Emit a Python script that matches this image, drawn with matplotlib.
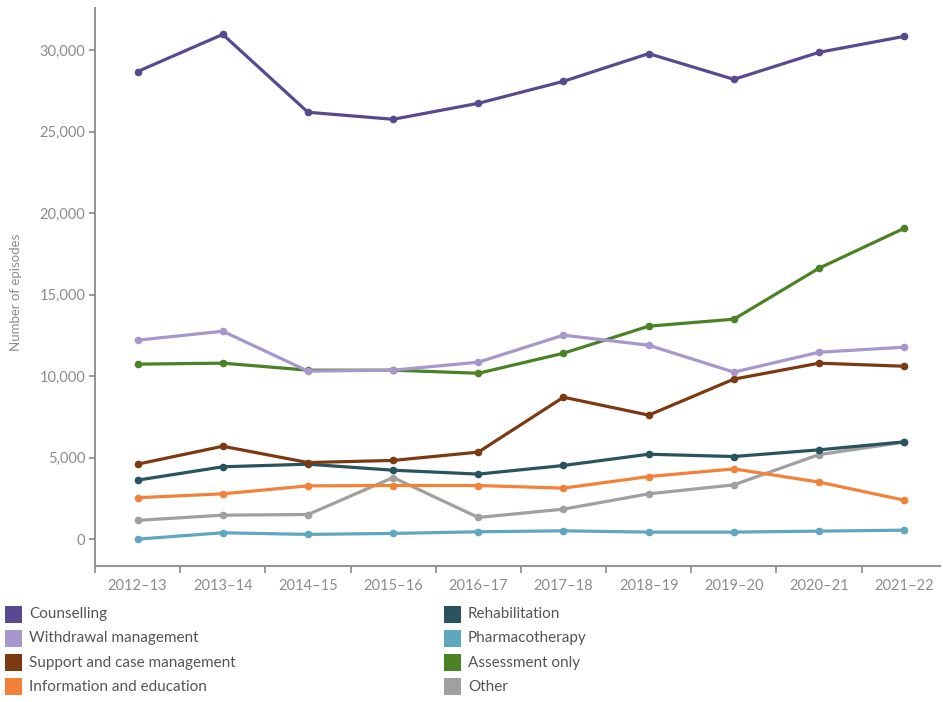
import matplotlib
matplotlib.use("Agg")
import matplotlib.pyplot as plt
from matplotlib.patches import Rectangle
from matplotlib.ticker import FuncFormatter, FixedLocator

YEARS = ["2012–13", "2013–14", "2014–15", "2015–16", "2016–17",
         "2017–18", "2018–19", "2019–20", "2020–21", "2021–22"]

COUNSELLING = [28700, 30980, 26200, 25770, 26750, 28100, 29800, 28220, 29880, 30860]
WITHDRAWAL = [12210, 12760, 10310, 10370, 10860, 12520, 11900, 10250, 11470, 11780]
SUPPORT = [4600, 5700, 4700, 4830, 5340, 8710, 7610, 9820, 10800, 10610]
INFORMATION = [2540, 2780, 3270, 3290, 3290, 3130, 3840, 4310, 3500, 2390]
REHABILITATION = [3620, 4440, 4600, 4230, 3990, 4520, 5210, 5070, 5480, 5970]
PHARMACOTHERAPY = [0, 390, 290, 350, 450, 510, 430, 430, 490, 550]
ASSESSMENT = [10740, 10800, 10370, 10370, 10180, 11410, 13070, 13500, 16630, 19080]
OTHER = [1150, 1470, 1510, 3780, 1330, 1840, 2780, 3330, 5190, 5950]

SERIES = [
    ("Counselling", COUNSELLING, "#594a8f"),
    ("Withdrawal management", WITHDRAWAL, "#a797cc"),
    ("Support and case management", SUPPORT, "#7b3a12"),
    ("Information and education", INFORMATION, "#f28139"),
    ("Rehabilitation", REHABILITATION, "#28535f"),
    ("Pharmacotherapy", PHARMACOTHERAPY, "#5fa6bf"),
    ("Assessment only", ASSESSMENT, "#4b8226"),
    ("Other", OTHER, "#a0a0a0"),
]

plt.rcParams["font.family"] = ["Lato", "DejaVu Sans"]
AXIS_GREY = "#8a8a8a"
TEXT_GREY = "#8c8c8c"

fig = plt.figure(figsize=(9.43, 7.02), dpi=100)
ax = fig.add_axes([95 / 943, 1 - 566 / 702, 845 / 943, 558 / 702])

x = list(range(len(YEARS)))
# draw in reverse so counselling sits on top
for name, values, colour in reversed(SERIES):
    ax.plot(x, values, color=colour, linewidth=2.3, marker="o", markersize=4.5,
            solid_joinstyle="round", solid_capstyle="round")

ax.set_xlim(-0.5, 9.42)
ax.set_ylim(-1650, 32600)

ax.set_yticks([0, 5000, 10000, 15000, 20000, 25000, 30000])
ax.yaxis.set_major_formatter(FuncFormatter(lambda v, p: f"{int(v):,}"))
ax.set_xticks(x)
ax.set_xticklabels(YEARS)
ax.xaxis.set_minor_locator(FixedLocator([i + 0.5 for i in range(-1, len(YEARS))]))
ax.tick_params(axis="x", which="major", length=0, pad=9, labelsize=10.5, labelcolor=TEXT_GREY)
ax.tick_params(axis="x", which="minor", length=5, width=1.2, color=AXIS_GREY)
ax.tick_params(axis="y", length=4, width=1.2, color=AXIS_GREY, labelsize=10.5,
               labelcolor=TEXT_GREY, pad=3)

for side in ["top", "right"]:
    ax.spines[side].set_visible(False)
for side in ["left", "bottom"]:
    ax.spines[side].set_color(AXIS_GREY)
    ax.spines[side].set_linewidth(1.3)

fig.text(16 / 943, 1 - 292 / 702, "Number of episodes", rotation=90, ha="center",
         va="center", fontsize=9.5, color=TEXT_GREY)

# legend: two columns of coloured squares
col_x = [5, 444]
for i, (name, values, colour) in enumerate(SERIES):
    col, row = divmod(i, 4)
    cy = 614 + row * 24.3
    fig.patches.append(Rectangle((col_x[col] / 943, 1 - (cy + 8.5) / 702), 17 / 943, 17 / 702,
                                 transform=fig.transFigure, facecolor=colour,
                                 edgecolor="none"))
    fig.text((col_x[col] + 24) / 943, 1 - cy / 702, name, ha="left", va="center",
             fontsize=11, color="#555555")

fig.savefig("out.png", dpi=100)
